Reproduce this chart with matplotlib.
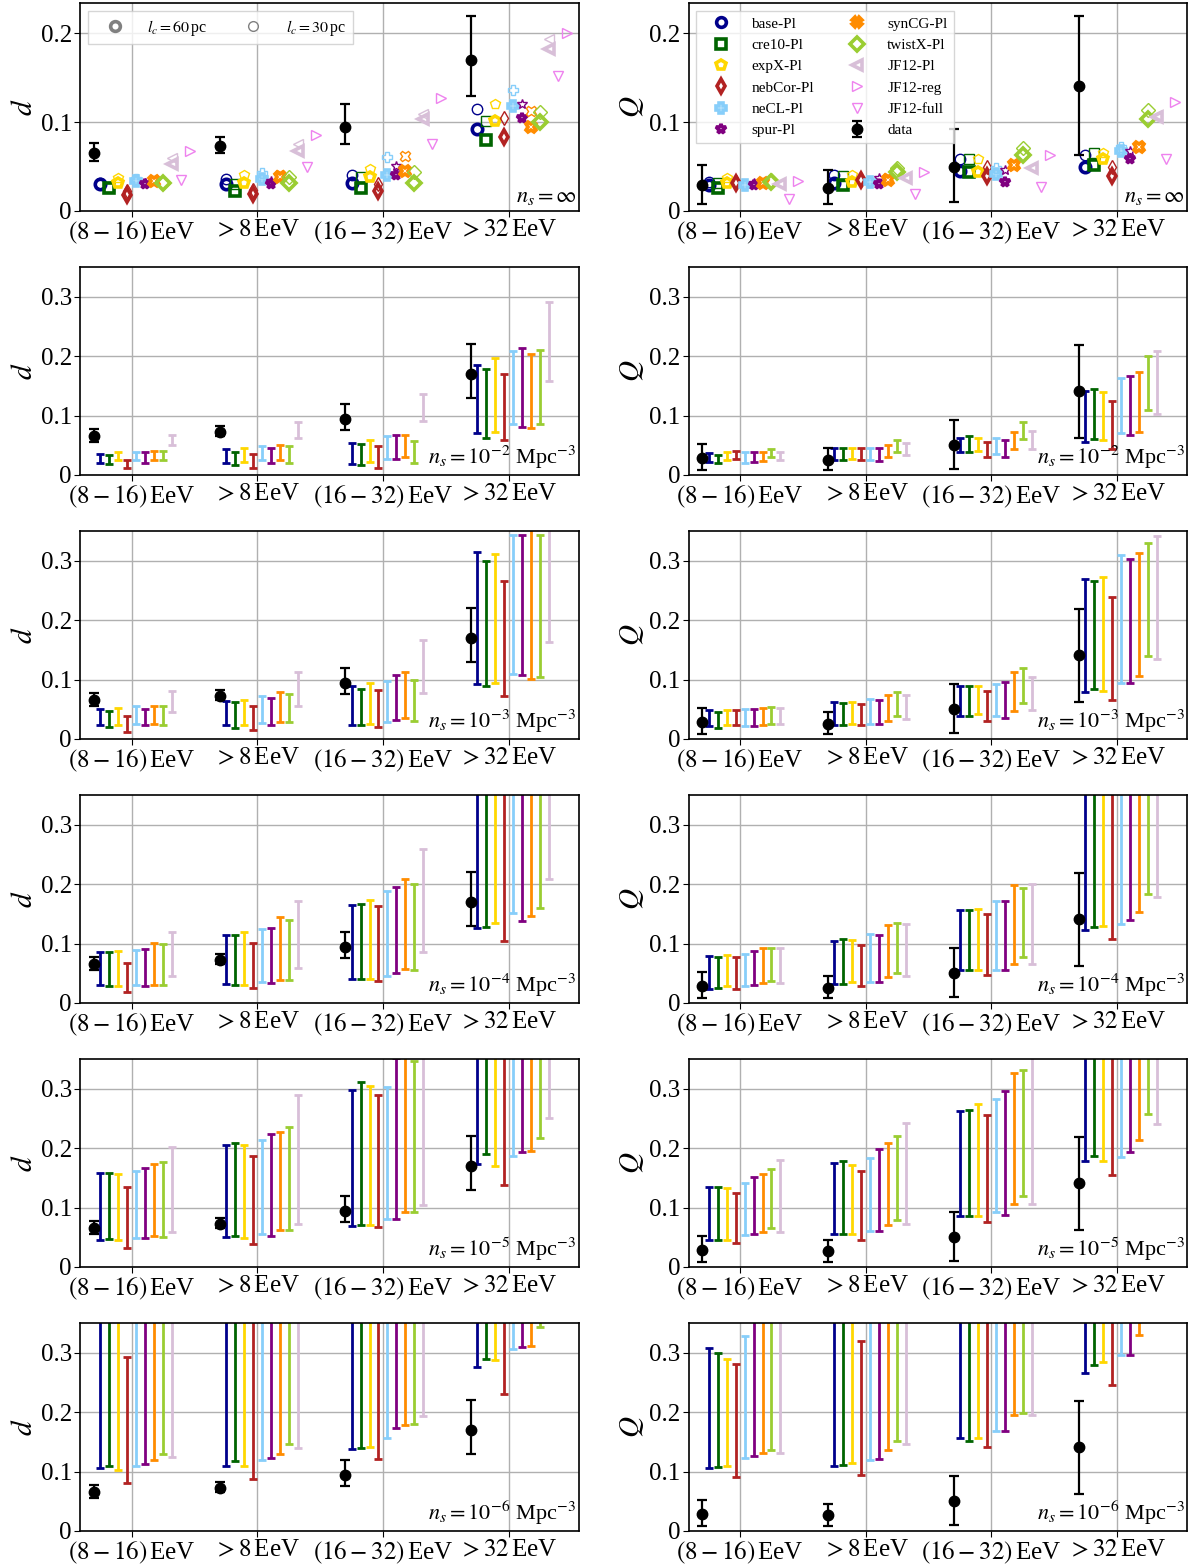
import numpy as np
import matplotlib
matplotlib.use("Agg")
import matplotlib.pyplot as plt
from matplotlib.lines import Line2D
from matplotlib.ticker import FuncFormatter

plt.rcParams["font.family"] = ["Liberation Serif", "DejaVu Serif"]
plt.rcParams["mathtext.fontset"] = "stix"

bins = [r"$(8-16)\,$EeV", r"$>8\,$EeV", r"$(16-32)\,$EeV", r"$>32\,$EeV"]
models = ["base-Pl", "cre10-Pl", "expX-Pl", "nebCor-Pl", "neCL-Pl",
          "spur-Pl", "synCG-Pl", "twistX-Pl", "JF12-Pl"]
colors = ["darkblue", "darkgreen", "gold", "firebrick", "lightskyblue",
          "purple", "darkorange", "yellowgreen", "thistle"]
markers = ["o", "s", "p", "d", "P", "*", "X", "D", "<"]
densities = [r"$n_s=10^{-2}$ Mpc$^{-3}$", r"$n_s=10^{-3}$ Mpc$^{-3}$",
             r"$n_s=10^{-4}$ Mpc$^{-3}$", r"$n_s=10^{-5}$ Mpc$^{-3}$",
             r"$n_s=10^{-6}$ Mpc$^{-3}$"]

# measured data (Auger)
data_d = [0.065, 0.073, 0.094, 0.170]
data_d_lo = [0.056, 0.065, 0.075, 0.130]
data_d_hi = [0.077, 0.083, 0.120, 0.220]
data_q = [0.029, 0.026, 0.050, 0.141]
data_q_lo = [0.008, 0.008, 0.010, 0.063]
data_q_hi = [0.052, 0.046, 0.092, 0.219]

# n_s = infinity, rows = models, cols = energy bins
d_inf_60 = [[0.030, 0.030, 0.032, 0.092], [0.026, 0.023, 0.026, 0.080],
            [0.031, 0.032, 0.038, 0.101], [0.018, 0.019, 0.023, 0.083],
            [0.034, 0.036, 0.041, 0.118], [0.030, 0.030, 0.041, 0.105],
            [0.034, 0.038, 0.045, 0.094], [0.032, 0.032, 0.032, 0.100],
            [0.053, 0.068, 0.103, 0.182]]
d_inf_30 = [[0.032, 0.036, 0.041, 0.115], [0.027, 0.030, 0.038, 0.101],
            [0.037, 0.041, 0.047, 0.120], [0.022, 0.024, 0.030, 0.105],
            [0.036, 0.043, 0.061, 0.136], [0.031, 0.034, 0.051, 0.120],
            [0.035, 0.041, 0.062, 0.113], [0.032, 0.038, 0.044, 0.111],
            [0.060, 0.075, 0.109, 0.194]]
q_inf_60 = [[0.029, 0.031, 0.045, 0.050], [0.026, 0.029, 0.044, 0.052],
            [0.031, 0.033, 0.044, 0.058], [0.031, 0.035, 0.039, 0.039],
            [0.029, 0.033, 0.042, 0.067], [0.029, 0.030, 0.033, 0.058],
            [0.031, 0.035, 0.052, 0.072], [0.033, 0.044, 0.063, 0.103],
            [0.030, 0.037, 0.048, 0.106]]
q_inf_30 = [[0.033, 0.041, 0.058, 0.063], [0.031, 0.039, 0.058, 0.065],
            [0.037, 0.041, 0.058, 0.065], [0.033, 0.035, 0.050, 0.050],
            [0.029, 0.033, 0.048, 0.072], [0.031, 0.037, 0.046, 0.067],
            [0.031, 0.037, 0.052, 0.072], [0.035, 0.048, 0.071, 0.114],
            [0.030, 0.037, 0.048, 0.108]]
jf12_full_d = [0.035, 0.050, 0.075, 0.152]
jf12_reg_d = [0.068, 0.086, 0.127, 0.200]
jf12_full_q = [0.014, 0.019, 0.027, 0.059]
jf12_reg_q = [0.034, 0.044, 0.063, 0.123]

# finite source densities: ranges (lo, hi); 0.40 = runs off the top
d_lo_2 = [[0.021, 0.021, 0.019, 0.070], [0.019, 0.017, 0.017, 0.063],
          [0.025, 0.022, 0.022, 0.073], [0.012, 0.012, 0.012, 0.059],
          [0.026, 0.026, 0.027, 0.086], [0.021, 0.020, 0.027, 0.080],
          [0.025, 0.026, 0.031, 0.079], [0.025, 0.021, 0.021, 0.085],
          [0.050, 0.063, 0.091, 0.159]]
d_hi_2 = [[0.036, 0.043, 0.054, 0.185], [0.033, 0.039, 0.052, 0.179],
          [0.039, 0.046, 0.059, 0.197], [0.026, 0.036, 0.048, 0.170],
          [0.039, 0.049, 0.065, 0.208], [0.038, 0.046, 0.068, 0.213],
          [0.040, 0.050, 0.068, 0.203], [0.040, 0.048, 0.058, 0.210],
          [0.068, 0.090, 0.136, 0.292]]
q_lo_2 = [[0.022, 0.025, 0.038, 0.055], [0.021, 0.025, 0.039, 0.060],
          [0.025, 0.027, 0.040, 0.059], [0.027, 0.025, 0.031, 0.044],
          [0.021, 0.025, 0.035, 0.070], [0.022, 0.024, 0.030, 0.068],
          [0.024, 0.030, 0.044, 0.073], [0.030, 0.038, 0.061, 0.109],
          [0.026, 0.034, 0.044, 0.103]]
q_hi_2 = [[0.037, 0.045, 0.063, 0.141], [0.034, 0.045, 0.066, 0.145],
          [0.039, 0.046, 0.063, 0.139], [0.040, 0.046, 0.055, 0.124],
          [0.038, 0.046, 0.062, 0.164], [0.038, 0.046, 0.059, 0.166],
          [0.039, 0.051, 0.073, 0.174], [0.043, 0.059, 0.089, 0.200],
          [0.039, 0.054, 0.074, 0.209]]

d_lo_3 = [[0.023, 0.023, 0.023, 0.092], [0.020, 0.019, 0.023, 0.090],
          [0.024, 0.024, 0.025, 0.095], [0.012, 0.015, 0.020, 0.073],
          [0.025, 0.027, 0.028, 0.109], [0.023, 0.023, 0.032, 0.107],
          [0.025, 0.029, 0.035, 0.101], [0.024, 0.028, 0.030, 0.104],
          [0.046, 0.055, 0.077, 0.163]]
d_hi_3 = [[0.051, 0.064, 0.089, 0.314], [0.047, 0.063, 0.084, 0.299],
          [0.052, 0.066, 0.094, 0.311], [0.038, 0.055, 0.083, 0.266],
          [0.055, 0.073, 0.097, 0.344], [0.051, 0.069, 0.107, 0.343],
          [0.056, 0.079, 0.113, 0.400], [0.056, 0.076, 0.099, 0.344],
          [0.081, 0.113, 0.167, 0.400]]
q_lo_3 = [[0.022, 0.024, 0.039, 0.079], [0.019, 0.024, 0.039, 0.084],
          [0.024, 0.026, 0.042, 0.081], [0.024, 0.024, 0.031, 0.065],
          [0.022, 0.026, 0.038, 0.095], [0.021, 0.025, 0.035, 0.095],
          [0.024, 0.030, 0.047, 0.106], [0.025, 0.039, 0.061, 0.139],
          [0.025, 0.034, 0.049, 0.134]]
q_hi_3 = [[0.048, 0.062, 0.090, 0.269], [0.045, 0.061, 0.090, 0.266],
          [0.048, 0.062, 0.090, 0.273], [0.049, 0.059, 0.081, 0.239],
          [0.051, 0.067, 0.093, 0.310], [0.051, 0.066, 0.096, 0.303],
          [0.052, 0.074, 0.112, 0.313], [0.054, 0.079, 0.120, 0.330],
          [0.052, 0.074, 0.105, 0.342]]

d_lo_4 = [[0.030, 0.032, 0.041, 0.127], [0.028, 0.030, 0.041, 0.128],
          [0.028, 0.030, 0.041, 0.134], [0.019, 0.025, 0.037, 0.104],
          [0.030, 0.035, 0.046, 0.151], [0.028, 0.033, 0.050, 0.138],
          [0.030, 0.038, 0.057, 0.146], [0.030, 0.038, 0.055, 0.160],
          [0.046, 0.059, 0.086, 0.209]]
d_hi_4 = [[0.086, 0.115, 0.165, 0.400], [0.086, 0.115, 0.167, 0.400],
          [0.088, 0.120, 0.174, 0.400], [0.068, 0.101, 0.164, 0.400],
          [0.089, 0.125, 0.188, 0.400], [0.091, 0.127, 0.196, 0.400],
          [0.101, 0.144, 0.209, 0.400], [0.100, 0.140, 0.200, 0.400],
          [0.120, 0.171, 0.259, 0.400]]
q_lo_4 = [[0.024, 0.032, 0.055, 0.122], [0.025, 0.032, 0.055, 0.128],
          [0.029, 0.035, 0.056, 0.129], [0.024, 0.029, 0.047, 0.107],
          [0.029, 0.036, 0.056, 0.133], [0.030, 0.036, 0.055, 0.140],
          [0.033, 0.043, 0.065, 0.153], [0.037, 0.051, 0.077, 0.183],
          [0.033, 0.046, 0.066, 0.179]]
q_hi_4 = [[0.079, 0.104, 0.156, 0.400], [0.078, 0.108, 0.156, 0.400],
          [0.080, 0.106, 0.158, 0.400], [0.078, 0.097, 0.149, 0.400],
          [0.083, 0.116, 0.171, 0.400], [0.087, 0.114, 0.171, 0.400],
          [0.092, 0.131, 0.198, 0.400], [0.092, 0.134, 0.194, 0.400],
          [0.092, 0.133, 0.201, 0.400]]

d_lo_5 = [[0.045, 0.051, 0.069, 0.174], [0.047, 0.052, 0.071, 0.191],
          [0.045, 0.049, 0.070, 0.170], [0.032, 0.039, 0.067, 0.138],
          [0.049, 0.056, 0.080, 0.187], [0.049, 0.052, 0.081, 0.194],
          [0.052, 0.063, 0.093, 0.195], [0.050, 0.062, 0.092, 0.217],
          [0.058, 0.072, 0.104, 0.251]]
d_hi_5 = [[0.158, 0.205, 0.298, 0.400], [0.158, 0.209, 0.311, 0.400],
          [0.156, 0.205, 0.304, 0.400], [0.135, 0.187, 0.290, 0.400],
          [0.162, 0.213, 0.303, 0.400], [0.166, 0.223, 0.352, 0.400],
          [0.173, 0.228, 0.400, 0.400], [0.176, 0.236, 0.346, 0.400],
          [0.202, 0.290, 0.400, 0.400]]
q_lo_5 = [[0.046, 0.055, 0.085, 0.178], [0.046, 0.055, 0.085, 0.187],
          [0.046, 0.056, 0.085, 0.179], [0.041, 0.046, 0.075, 0.155],
          [0.053, 0.060, 0.093, 0.185], [0.056, 0.061, 0.088, 0.194],
          [0.059, 0.070, 0.106, 0.213], [0.066, 0.079, 0.120, 0.258],
          [0.059, 0.072, 0.106, 0.241]]
q_hi_5 = [[0.135, 0.175, 0.262, 0.400], [0.135, 0.178, 0.265, 0.400],
          [0.133, 0.172, 0.274, 0.400], [0.125, 0.161, 0.255, 0.400],
          [0.141, 0.183, 0.283, 0.400], [0.152, 0.199, 0.296, 0.400],
          [0.156, 0.208, 0.327, 0.400], [0.165, 0.220, 0.332, 0.400],
          [0.180, 0.242, 0.400, 0.400]]

d_lo_6 = [[0.106, 0.110, 0.138, 0.276], [0.110, 0.117, 0.140, 0.289],
          [0.102, 0.110, 0.141, 0.288], [0.081, 0.087, 0.121, 0.230],
          [0.110, 0.119, 0.156, 0.306], [0.112, 0.123, 0.173, 0.309],
          [0.119, 0.130, 0.178, 0.311], [0.130, 0.147, 0.180, 0.343],
          [0.125, 0.139, 0.194, 0.380]]
d_hi_6 = [[0.400, 0.400, 0.400, 0.400], [0.400, 0.400, 0.400, 0.400],
          [0.400, 0.400, 0.400, 0.400], [0.293, 0.400, 0.400, 0.400],
          [0.400, 0.400, 0.400, 0.400], [0.400, 0.400, 0.400, 0.400],
          [0.400, 0.400, 0.400, 0.400], [0.400, 0.400, 0.400, 0.400],
          [0.400, 0.400, 0.400, 0.450]]
q_lo_6 = [[0.106, 0.109, 0.157, 0.266], [0.107, 0.111, 0.152, 0.280],
          [0.109, 0.114, 0.157, 0.285], [0.090, 0.095, 0.142, 0.245],
          [0.122, 0.119, 0.168, 0.296], [0.126, 0.121, 0.169, 0.296],
          [0.131, 0.137, 0.196, 0.330], [0.137, 0.152, 0.199, 0.370],
          [0.132, 0.146, 0.196, 0.370]]
q_hi_6 = [[0.308, 0.400, 0.400, 0.400], [0.300, 0.400, 0.400, 0.400],
          [0.290, 0.400, 0.400, 0.400], [0.281, 0.320, 0.400, 0.400],
          [0.328, 0.400, 0.400, 0.400], [0.400, 0.400, 0.400, 0.400],
          [0.400, 0.400, 0.400, 0.400], [0.400, 0.400, 0.400, 0.400],
          [0.400, 0.400, 0.400, 0.450]]

d_ranges = [(d_lo_2, d_hi_2), (d_lo_3, d_hi_3), (d_lo_4, d_hi_4),
            (d_lo_5, d_hi_5), (d_lo_6, d_hi_6)]
q_ranges = [(q_lo_2, q_hi_2), (q_lo_3, q_hi_3), (q_lo_4, q_hi_4),
            (q_lo_5, q_hi_5), (q_lo_6, q_hi_6)]

STEP = 1.0 / 14
X0 = -0.25
DATA_OFF = -0.30
FS = 18

xb = np.arange(len(bins))


def style_axes(ax, ylabel, ymax, yticks, note):
    ax.set_xlim(-0.41, 3.56)
    ax.set_ylim(0, ymax)
    ax.set_xticks(xb)
    ax.set_xticklabels(bins)
    ax.set_yticks(yticks)
    ax.yaxis.set_major_formatter(FuncFormatter(lambda v, _: "0" if v == 0 else f"{v:.1f}"))
    ax.tick_params(labelsize=FS, length=4, pad=2)
    ax.grid(True, color="#b0b0b0", lw=1)
    ax.set_axisbelow(True)
    ax.set_ylabel(ylabel, fontsize=21, labelpad=2)
    for s in ax.spines.values():
        s.set_linewidth(1.2)
    ax.text(0.995, 0.02, note, transform=ax.transAxes, ha="right", va="bottom", fontsize=16)


def plot_data(ax, val, lo, hi):
    val = np.array(val)
    return ax.errorbar(xb + DATA_OFF, val, yerr=[val - np.array(lo), np.array(hi) - val],
                       fmt="o", color="black", ms=7.5, elinewidth=1.6, capsize=3.5,
                       capthick=1.6, label="data", zorder=5)


def plot_top(ax, v60, v30, reg, full):
    for k in range(len(models)):
        x = xb + X0 + k * STEP
        ax.plot(x, v30[k], ls="none", marker=markers[k], color=colors[k],
                mfc="none", ms=7.5, mew=1.0)
        ax.plot(x, v60[k], ls="none", marker=markers[k], color=colors[k],
                mfc="none", ms=7.5, mew=2.6)
    ax.plot(xb + X0 + 9 * STEP, full, ls="none", marker="v", color="violet",
            mfc="none", ms=7.5, mew=1.0)
    ax.plot(xb + X0 + 10 * STEP, reg, ls="none", marker=">", color="violet",
            mfc="none", ms=7.5, mew=1.0)


def plot_ranges(ax, lo, hi):
    for k in range(len(models)):
        x = xb + X0 + k * STEP
        l = np.array(lo[k])
        h = np.array(hi[k])
        mid = 0.5 * (l + h)
        ax.errorbar(x, mid, yerr=[mid - l, h - mid], fmt="none", ecolor=colors[k],
                    elinewidth=2.0, capsize=2.8, capthick=2.0)


fig, axes = plt.subplots(6, 2, figsize=(11.98, 15.66), dpi=100)
fig.subplots_adjust(left=0.067, right=0.991, top=0.998, bottom=0.0224,
                    wspace=0.22, hspace=0.27)

# top row: n_s = infinity
ax = axes[0, 0]
plot_top(ax, d_inf_60, d_inf_30, jf12_reg_d, jf12_full_d)
plot_data(ax, data_d, data_d_lo, data_d_hi)
style_axes(ax, "$d$", 0.234, [0, 0.1, 0.2], r"$n_s=\infty$")
lc_handles = [Line2D([], [], ls="none", marker="o", color="gray", mfc="none", ms=7, mew=2.6),
              Line2D([], [], ls="none", marker="o", color="gray", mfc="none", ms=7, mew=1.0)]
ax.legend(lc_handles, [r"$l_c=60\,$pc", r"$l_c=30\,$pc"], ncol=2, loc="upper left",
          fontsize=11.5, columnspacing=1.6, handlelength=2.5, fancybox=False,
          edgecolor="#cccccc")

ax = axes[0, 1]
plot_top(ax, q_inf_60, q_inf_30, jf12_reg_q, jf12_full_q)
eb = plot_data(ax, data_q, data_q_lo, data_q_hi)
style_axes(ax, "$Q$", 0.234, [0, 0.1, 0.2], r"$n_s=\infty$")
handles = [Line2D([], [], ls="none", marker=markers[k], color=colors[k], mfc="none",
                  ms=7, mew=2.6) for k in range(len(models))]
handles.append(Line2D([], [], ls="none", marker=">", color="violet", mfc="none", ms=7, mew=1.0))
handles.append(Line2D([], [], ls="none", marker="v", color="violet", mfc="none", ms=7, mew=1.0))
handles.append(eb)
labels = models + ["JF12-reg", "JF12-full", "data"]
ax.legend(handles, labels, ncol=2, loc="upper left", fontsize=11, handlelength=2.4,
          columnspacing=1.6, fancybox=False, edgecolor="#cccccc", labelspacing=0.5)

# finite source densities
for r in range(5):
    ax = axes[r + 1, 0]
    plot_ranges(ax, *d_ranges[r])
    plot_data(ax, data_d, data_d_lo, data_d_hi)
    style_axes(ax, "$d$", 0.35, [0, 0.1, 0.2, 0.3], densities[r])

    ax = axes[r + 1, 1]
    plot_ranges(ax, *q_ranges[r])
    plot_data(ax, data_q, data_q_lo, data_q_hi)
    style_axes(ax, "$Q$", 0.35, [0, 0.1, 0.2, 0.3], densities[r])

fig.savefig("out.png", dpi=100)
